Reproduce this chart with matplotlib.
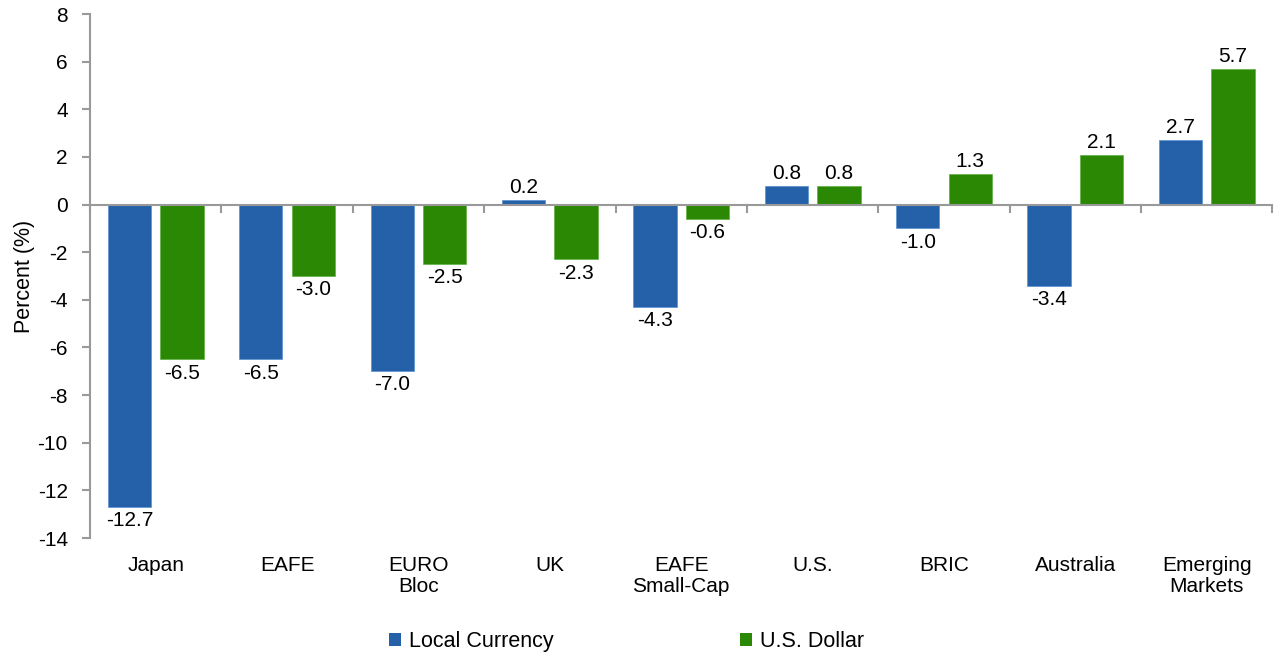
import matplotlib
matplotlib.use("Agg")
import matplotlib.pyplot as plt
from matplotlib.patches import Patch
import numpy as np

categories = ["Japan", "EAFE", "EURO\nBloc", "UK", "EAFE\nSmall-Cap", "U.S.", "BRIC", "Australia", "Emerging\nMarkets"]
local_currency = [-12.7, -6.5, -7.0, 0.2, -4.3, 0.8, -1.0, -3.4, 2.7]
us_dollar = [-6.5, -3.0, -2.5, -2.3, -0.6, 0.8, 1.3, 2.1, 5.7]
series_names = ["Local Currency", "U.S. Dollar"]
yticks = list(range(-14, 9, 2))

plt.rcParams['font.family'] = ['Liberation Sans', 'DejaVu Sans']
blue = "#2561A8"
green = "#2A8805"
gray = "#999999"
fs = 15

fig = plt.figure(figsize=(12.75, 6.55), dpi=100)
ax = fig.add_axes([0.0706, 0.1786, 0.9274, 0.8])

x = np.arange(len(categories))
w = 0.33
off = 0.2
b1 = ax.bar(x - off, local_currency, w, color=blue, edgecolor="#5a8fd0", linewidth=0.5)
b2 = ax.bar(x + off, us_dollar, w, color=green, edgecolor="#5fb040", linewidth=0.5)

for bars, vals in ((b1, local_currency), (b2, us_dollar)):
    for b, v in zip(bars, vals):
        cx = b.get_x() + b.get_width() / 2
        if v >= 0:
            ax.annotate(f"{v:.1f}", (cx, v), xytext=(0, 2), textcoords="offset points",
                        ha="center", va="bottom", fontsize=fs)
        else:
            ax.annotate(f"{v:.1f}", (cx, v), xytext=(0, -3), textcoords="offset points",
                        ha="center", va="top", fontsize=fs)

ax.set_xlim(-0.5, len(categories) - 0.5)
ax.set_ylim(-14, 8)
ax.set_yticks(yticks)
ax.set_yticklabels([str(t) for t in yticks], fontsize=fs)
ax.tick_params(axis="y", color=gray, length=6, width=1.5, pad=10)

for s in ["top", "right"]:
    ax.spines[s].set_visible(False)
ax.spines["left"].set_color(gray)
ax.spines["left"].set_linewidth(1.5)
ax.spines["bottom"].set_position(("data", 0))
ax.spines["bottom"].set_color(gray)
ax.spines["bottom"].set_linewidth(1.5)

ax.set_xticks(np.arange(len(categories) + 1) - 0.5)
ax.set_xticklabels([])
ax.tick_params(axis="x", color=gray, length=6, width=1.5, direction="out")

for xi, c in zip(x, categories):
    ax.annotate(c, (xi, -14), xytext=(0, -13), textcoords="offset points",
                ha="center", va="top", fontsize=fs, linespacing=1.1, annotation_clip=False)

ax.set_ylabel("Percent (%)", fontsize=fs + 0.5, labelpad=2)

handles = [Patch(facecolor=blue), Patch(facecolor=green)]
leg = fig.legend(handles, series_names, loc="center", bbox_to_anchor=(0.4914, 0.021),
                 ncol=2, frameon=False, fontsize=fs + 0.5, handlelength=0.55, handleheight=0.55,
                 handletextpad=0.35, columnspacing=8.7)

fig.savefig("out.png", dpi=100)
